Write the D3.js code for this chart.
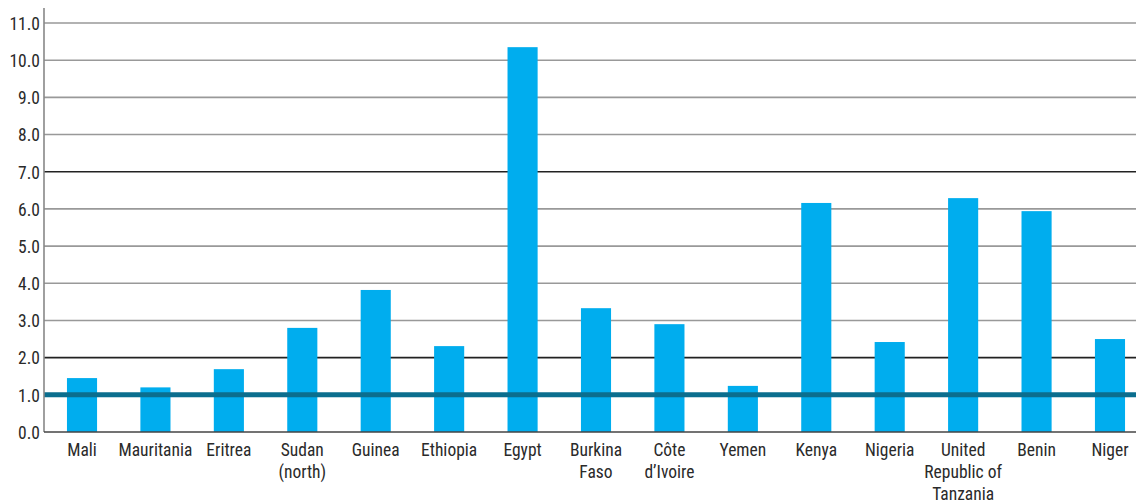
<!DOCTYPE html>
<html>
<head>
<meta charset="utf-8">
<script src="https://cdn.jsdelivr.net/npm/d3@7"></script>
<style>
  html, body { margin: 0; padding: 0; background: #fff; }
  svg text { font-family: "Liberation Sans Narrow", "Roboto Condensed", "Arial Narrow", "Liberation Sans", sans-serif; fill: #2a2a2a; }
</style>
</head>
<body>
<div id="chart"></div>
<script>
// Ratio per country, reference line at parity (1.0)
const countries = [
  ['Mali'], ['Mauritania'], ['Eritrea'], ['Sudan', '(north)'], ['Guinea'],
  ['Ethiopia'], ['Egypt'], ['Burkina', 'Faso'], ['Côte', 'd\u2019Ivoire'], ['Yemen'],
  ['Kenya'], ['Nigeria'], ['United', 'Republic of', 'Tanzania'], ['Benin'], ['Niger']
];
const values = [1.45, 1.2, 1.69, 2.8, 3.82, 2.31, 10.35, 3.33, 2.9, 1.24, 6.16, 2.42, 6.29, 5.94, 2.5];
const yTicks = [0, 1, 2, 3, 4, 5, 6, 7, 8, 9, 10, 11];
const darkTicks = [2, 7];
const refValue = 1.0;

const width = 1136, height = 501;
const axisX = 44;

const svg = d3.select('#chart').append('svg')
  .attr('width', width)
  .attr('height', height);

const keys = countries.map((c, i) => i);

const x = d3.scaleBand()
  .domain(keys)
  .range([45.3, 1146.7])
  .paddingInner(0.59)
  .paddingOuter(0.295);

const y = d3.scaleLinear()
  .domain([0, 11])
  .range([432, 23]);

// Grid lines
svg.append('g')
  .selectAll('line')
  .data(yTicks.filter(t => t > 0))
  .enter()
  .append('line')
  .attr('x1', axisX)
  .attr('x2', width)
  .attr('y1', d => y(d))
  .attr('y2', d => y(d))
  .attr('stroke', d => darkTicks.includes(d) ? '#222' : '#999')
  .attr('stroke-width', 1.6);

// Bars
svg.append('g')
  .selectAll('rect')
  .data(values)
  .enter()
  .append('rect')
  .attr('x', (d, i) => x(i))
  .attr('width', x.bandwidth())
  .attr('y', d => y(d))
  .attr('height', d => y(0) - y(d))
  .attr('fill', '#00adee');

// Reference line at 1.0
svg.append('line')
  .attr('x1', axisX)
  .attr('x2', width)
  .attr('y1', y(refValue))
  .attr('y2', y(refValue))
  .attr('stroke', '#0b6e8e')
  .attr('stroke-width', 5);

// Y axis
const yAxis = d3.axisLeft(y)
  .tickValues(yTicks)
  .tickSize(0)
  .tickPadding(4)
  .tickFormat(d3.format('.1f'));

const gy = svg.append('g')
  .attr('transform', `translate(${axisX},0)`)
  .call(yAxis);
gy.select('.domain').remove();
gy.selectAll('text')
  .style('font-size', '17.5px')
  .attr('dy', '0.36em');

svg.append('line')
  .attr('x1', axisX)
  .attr('x2', axisX)
  .attr('y1', 8)
  .attr('y2', y(0))
  .attr('stroke', '#888')
  .attr('stroke-width', 1.6);

// Baseline
svg.append('line')
  .attr('x1', axisX)
  .attr('x2', width)
  .attr('y1', y(0))
  .attr('y2', y(0))
  .attr('stroke', '#444')
  .attr('stroke-width', 1.6);

// Category labels
const labels = svg.append('g')
  .selectAll('text')
  .data(countries)
  .enter()
  .append('text')
  .attr('text-anchor', 'middle')
  .attr('x', (d, i) => x(i) + x.bandwidth() / 2)
  .attr('y', 456)
  .style('font-size', '17.5px');

labels.selectAll('tspan')
  .data(d => d)
  .enter()
  .append('tspan')
  .attr('x', function() { return d3.select(this.parentNode).attr('x'); })
  .attr('dy', (d, i) => i === 0 ? 0 : 22)
  .text(d => d);
</script>
</body>
</html>
